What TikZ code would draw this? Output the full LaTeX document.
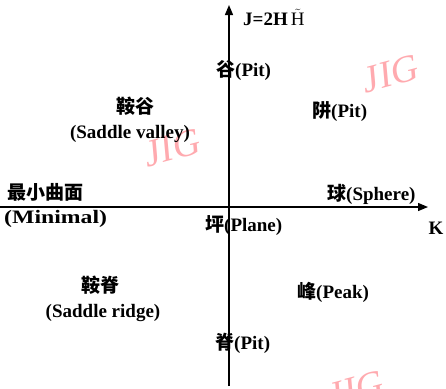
\documentclass[tikz,border=0pt]{standalone}
\usepackage{fontspec}
\setmainfont{Liberation Serif}
\newfontfamily\cjk{Noto Sans CJK SC}
\newfontfamily\widefont[FakeStretch=1.25]{Liberation Serif}
\usetikzlibrary{arrows.meta}
\definecolor{wm}{RGB}{255,170,175}
\begin{document}
\begin{tikzpicture}[x=1pt,y=-1pt,
  lbl/.style={font=\fontsize{19}{21}\selectfont\bfseries, inner sep=0pt},
  wmark/.style={font=\fontsize{38}{38}\selectfont\itshape, text=wm, inner sep=0pt, rotate=15},
  axis/.style={line width=1.3pt, -{Triangle[length=10pt,width=8pt]}}]
\useasboundingbox (0,0) rectangle (446,388);
\node[wmark] (w1) at (390,74) {JIG};
\node[wmark] (w2) at (172,148) {JIG};
\node[wmark] (w3) at (355,390) {JIG};
\coordinate (xl) at (0,207);
\coordinate (xr) at (428,207);
\coordinate (yb) at (229,386);
\coordinate (yt) at (229,5);
\draw[axis] (xl) -- (xr);
\draw[axis] (yb) -- (yt);
\node[lbl, anchor=west] (J) at (243,17) {J=2H\,$\tilde{\mathrm{H}}$};
\node[lbl, anchor=west] (gu) at (216,70) {{\cjk 谷}(Pit)};
\node[lbl, anchor=west] (jing) at (312,112) {{\cjk 阱}(Pit)};
\node[lbl] (ag) at (135,106) {\cjk 鞍谷};
\node[lbl] (sv) at (130,134) {(Saddle valley)};
\node[lbl, anchor=west] (zx) at (7,192) {\cjk 最小曲面};
\node[lbl, anchor=west] (mi) at (4,219) {\widefont\bfseries (Minimal)};
\node[lbl, anchor=west] (ping) at (205,226) {{\cjk 坪}(Plane)};
\node[lbl, anchor=west] (qiu) at (327,194) {{\cjk 球}(Sphere)};
\node[lbl] (K) at (436,228) {K};
\node[lbl] (aj) at (100,285) {\cjk 鞍脊};
\node[lbl] (sr) at (103,313) {(Saddle ridge)};
\node[lbl, anchor=west] (feng) at (297,292) {{\cjk 峰}(Peak)};
\node[lbl, anchor=west] (ji) at (215,343) {{\cjk 脊}(Pit)};
\end{tikzpicture}
\end{document}
